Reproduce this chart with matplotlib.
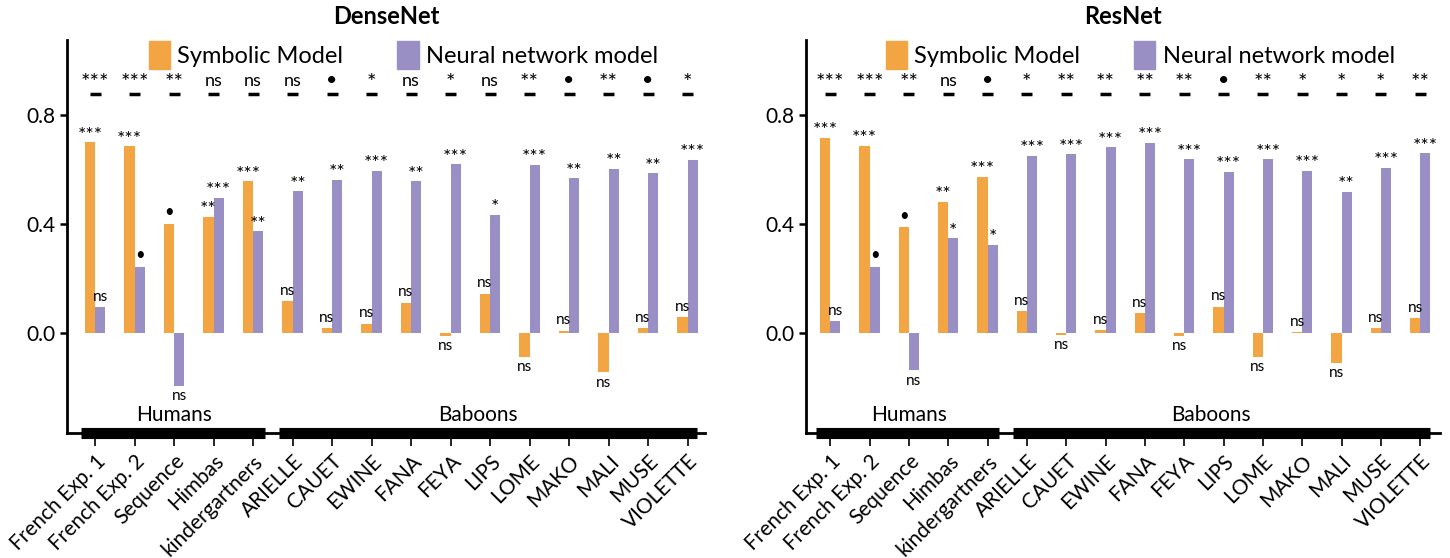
import matplotlib
matplotlib.use("Agg")
import matplotlib.pyplot as plt
import matplotlib.transforms as mtransforms
from matplotlib.patches import Patch
import numpy as np

plt.rcParams['font.family'] = ['Lato', 'DejaVu Sans']

categories = ["French Exp. 1", "French Exp. 2", "Sequence", "Himbas", "kindergartners",
              "ARIELLE", "CAUET", "EWINE", "FANA", "FEYA", "LIPS", "LOME", "MAKO",
              "MALI", "MUSE", "VIOLETTE"]
groups = ["Humans", "Baboons"]

# DenseNet panel
dense_symbolic = [0.700, 0.686, 0.402, 0.427, 0.557, 0.117, 0.017, 0.034, 0.112, -0.010,
                  0.145, -0.087, 0.009, -0.144, 0.018, 0.059]
dense_neural = [0.094, 0.244, -0.193, 0.497, 0.374, 0.520, 0.562, 0.596, 0.557, 0.619,
                0.433, 0.618, 0.568, 0.603, 0.586, 0.635]
dense_sym_sig = ["***", "***", "•", "**", "***", "ns", "ns", "ns", "ns", "ns",
                 "ns", "ns", "ns", "ns", "ns", "ns"]
dense_nn_sig = ["ns", "•", "ns", "***", "**", "**", "**", "***", "**", "***",
                "*", "***", "**", "**", "**", "***"]
dense_diff_sig = ["***", "***", "**", "ns", "ns", "ns", "•", "*", "ns", "*",
                  "ns", "**", "•", "**", "•", "*"]

# ResNet panel
res_symbolic = [0.717, 0.687, 0.388, 0.482, 0.574, 0.081, -0.007, 0.011, 0.074, -0.010,
                0.097, -0.087, 0.002, -0.110, 0.017, 0.055]
res_neural = [0.045, 0.244, -0.137, 0.348, 0.324, 0.650, 0.656, 0.682, 0.698, 0.637,
              0.591, 0.637, 0.596, 0.518, 0.607, 0.660]
res_sym_sig = ["***", "***", "•", "**", "***", "ns", "ns", "ns", "ns", "ns",
               "ns", "ns", "ns", "ns", "ns", "ns"]
res_nn_sig = ["ns", "•", "ns", "*", "*", "***", "***", "***", "***", "***",
              "***", "***", "***", "**", "***", "***"]
res_diff_sig = ["***", "***", "**", "ns", "•", "*", "**", "**", "**", "**",
                "•", "**", "*", "*", "*", "**"]

ORANGE = "#F2A542"
PURPLE = "#9A8FC4"

fig = plt.figure(figsize=(14.5, 5.58), dpi=100)
ax1 = fig.add_axes([0.0462, 0.224, 0.440, 0.704])
ax2 = fig.add_axes([0.556, 0.224, 0.437, 0.704])


def draw_panel(ax, title, sym, nn, sym_sig, nn_sig, diff_sig, xlim, text_x):
    x = np.arange(len(categories))
    w = 0.26
    ax.bar(x - w / 2, sym, width=w, color=ORANGE, edgecolor='none', label="Symbolic Model")
    ax.bar(x + w / 2, nn, width=w, color=PURPLE, edgecolor='none', label="Neural network model")

    # significance of each model's fit
    for xs, vals, sigs in ((x - w / 2, sym, sym_sig), (x + w / 2, nn, nn_sig)):
        for xi, v, s in zip(xs, vals, sigs):
            if s == "ns":
                fs, off = 11, 0.012
            elif s == "•":
                fs, off = 12, 0.012
            else:
                fs, off = 14, -0.005
            if v >= 0:
                ax.text(xi, v + off, s, ha='center', va='bottom', fontsize=fs)
            else:
                ax.text(xi, v - 0.012, s, ha='center', va='top', fontsize=fs)

    # pairwise comparison row
    for xi, s in zip(x, diff_sig):
        if s == "ns":
            fs, yy = 13, 0.895
        elif s == "•":
            fs, yy = 14, 0.895
        else:
            fs, yy = 16, 0.88
        ax.text(xi, yy, s, ha='center', va='bottom', fontsize=fs)
        ax.plot([xi - 0.14, xi + 0.14], [0.878, 0.878], color='black', lw=2.5,
                solid_capstyle='butt')

    ax.set_xlim(*xlim)
    ax.set_ylim(-0.367, 1.075)
    ax.set_yticks([0.0, 0.4, 0.8])
    ax.set_yticklabels(["0.0", "0.4", "0.8"])
    ax.set_xticks(x)
    ax.set_xticklabels(categories, rotation=45, ha='right', rotation_mode='anchor',
                       fontsize=15)
    ax.tick_params(axis='x', length=9, width=1.2, pad=4)
    ax.tick_params(axis='y', length=5, width=1.8, labelsize=15)
    for side in ('top', 'right'):
        ax.spines[side].set_visible(False)
    ax.spines['left'].set_linewidth(2)
    ax.spines['bottom'].set_linewidth(2)

    # group brackets along the x axis
    trans = mtransforms.blended_transform_factory(ax.transData, ax.transAxes)
    for (a, b) in ((-0.35, 4.3), (4.65, 15.25)):
        ax.plot([a, b], [0, 0], transform=trans, color='black', lw=8,
                solid_capstyle='butt', clip_on=False, zorder=5)
    ax.text(text_x[0], -0.30, groups[0], ha='center', va='center', fontsize=15)
    ax.text(text_x[1], -0.30, groups[1], ha='center', va='center', fontsize=15)

    ax.set_title(title, fontsize=17, fontweight='bold', pad=12)
    ax.legend(handles=[Patch(color=ORANGE, label="Symbolic Model"),
                       Patch(color=PURPLE, label="Neural network model")],
              loc='center', bbox_to_anchor=(0.527, 0.962), ncol=2, frameon=False,
              fontsize=17, handlelength=0.9, handleheight=1.4, handletextpad=0.3,
              columnspacing=2.3, borderaxespad=0)


draw_panel(ax1, "DenseNet", dense_symbolic, dense_neural, dense_sym_sig, dense_nn_sig,
           dense_diff_sig, (-0.71, 15.44), (2.0, 9.7))
draw_panel(ax2, "ResNet", res_symbolic, res_neural, res_sym_sig, res_nn_sig,
           res_diff_sig, (-0.61, 15.5), (2.0, 9.67))

fig.savefig("out.png", dpi=100)
